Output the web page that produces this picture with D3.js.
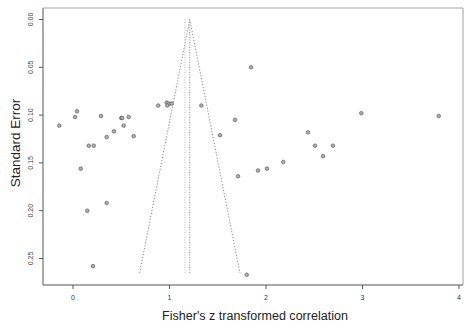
<!DOCTYPE html>
<html>
<head>
<meta charset="UTF-8">
<style>
  body { margin: 0; background: #fff; }
  text { font-family: "Liberation Sans", Arial, sans-serif; }
</style>
</head>
<body>
<svg id="chart"></svg>
<script src="https://d3js.org/d3.v7.min.js"></script>
<script>

// effect sizes (Fisher's z) and their standard errors
let zValues = [-0.142, 0.021, 0.041, 0.290, 0.500, 0.510, 0.577, 0.525, 0.425, 0.349,
               0.629, 0.163, 0.215, 0.080, 0.349, 0.148, 0.207, 0.884, 0.971, 0.998,
               1.023, 0.977, 1.330, 1.845, 1.679, 1.523, 2.435, 2.508, 2.694, 2.591,
               2.988, 3.790, 2.179, 2.010, 1.917, 1.710, 1.800];
let seValues = [0.111, 0.102, 0.096, 0.101, 0.103, 0.103, 0.102, 0.111, 0.117, 0.123,
                0.122, 0.132, 0.132, 0.156, 0.192, 0.200, 0.258, 0.090, 0.087, 0.088,
                0.088, 0.090, 0.090, 0.050, 0.105, 0.121, 0.118, 0.132, 0.132, 0.143,
                0.098, 0.101, 0.149, 0.156, 0.158, 0.164, 0.267];
let xTicks = [0, 1, 2, 3, 4];
let yTicks = [0.00, 0.05, 0.10, 0.15, 0.20, 0.25];
let pooled = 1.21;
let pooledAlt = 1.16;
let seMax = 0.265;

let width = 470, height = 329;
let svg = d3.select("#chart").attr("width", width).attr("height", height);

let x = d3.scaleLinear().domain([0, 4]).range([73, 459]);
let y = d3.scaleLinear().domain([0, 0.25]).range([19.5, 258.5]);

let box = {left: 43, right: 463, top: 8, bottom: 285};

// plot frame
svg.append("line").attr("x1", box.left).attr("x2", box.right).attr("y1", box.top).attr("y2", box.top)
  .attr("stroke", "#c4c4c4").attr("stroke-width", 1.5);
svg.append("line").attr("x1", box.right).attr("x2", box.right).attr("y1", box.top).attr("y2", box.bottom)
  .attr("stroke", "#a0a0a0").attr("stroke-width", 1);
svg.append("line").attr("x1", box.left).attr("x2", box.left).attr("y1", box.top).attr("y2", box.bottom)
  .attr("stroke", "#555").attr("stroke-width", 1);
svg.append("line").attr("x1", box.left).attr("x2", box.right).attr("y1", box.bottom).attr("y2", box.bottom)
  .attr("stroke", "#555").attr("stroke-width", 1);

// funnel
let funnel = svg.append("g").attr("fill", "none");
funnel.append("path")
  .attr("d", d3.line()([[x(pooled - 1.96 * seMax), y(seMax)], [x(pooled), y(0)], [x(pooled + 1.96 * seMax), y(seMax)]]))
  .attr("stroke", "#666").attr("stroke-width", 0.8).attr("stroke-dasharray", "1.2,1.8");
[pooledAlt, pooled].forEach((v, i) => {
  funnel.append("line")
    .attr("x1", x(v)).attr("x2", x(v)).attr("y1", y(0)).attr("y2", y(seMax))
    .attr("stroke", i == 0 ? "#bbb" : "#888").attr("stroke-width", 1).attr("stroke-dasharray", "1,1.5");
});

// x axis
let xa = svg.append("g");
xTicks.forEach(t => {
  xa.append("line").attr("x1", x(t)).attr("x2", x(t)).attr("y1", box.bottom).attr("y2", box.bottom + 4)
    .attr("stroke", "#555");
  xa.append("text").attr("x", x(t)).attr("y", 300).attr("text-anchor", "middle")
    .attr("font-size", 7).attr("fill", "#333").text(t);
});

// y axis
let ya = svg.append("g");
yTicks.forEach(t => {
  ya.append("line").attr("x1", box.left - 4).attr("x2", box.left).attr("y1", y(t)).attr("y2", y(t))
    .attr("stroke", "#555");
  ya.append("text").attr("transform", "translate(33," + y(t) + ") rotate(-90)")
    .attr("text-anchor", "middle").attr("font-size", 7).attr("fill", "#444")
    .text(d3.format(".2f")(t));
});

// points
svg.append("g").selectAll("circle")
  .data(zValues.map((z, i) => ({z: z, se: seValues[i]})))
  .enter().append("circle")
    .attr("cx", d => x(d.z))
    .attr("cy", d => y(d.se))
    .attr("r", 1.8)
    .attr("fill", "#b0b0b0")
    .attr("stroke", "#5a5a5a")
    .attr("stroke-width", 0.7);

// labels
svg.append("text").attr("x", 255).attr("y", 320).attr("text-anchor", "middle")
  .attr("font-size", 12.5).attr("fill", "#222").attr("textLength", 186)
  .text("Fisher's z transformed correlation");
svg.append("text").attr("transform", "translate(20,143) rotate(-90)").attr("text-anchor", "middle")
  .attr("font-size", 13.5).attr("fill", "#222")
  .text("Standard Error");

</script>
</body>
</html>
